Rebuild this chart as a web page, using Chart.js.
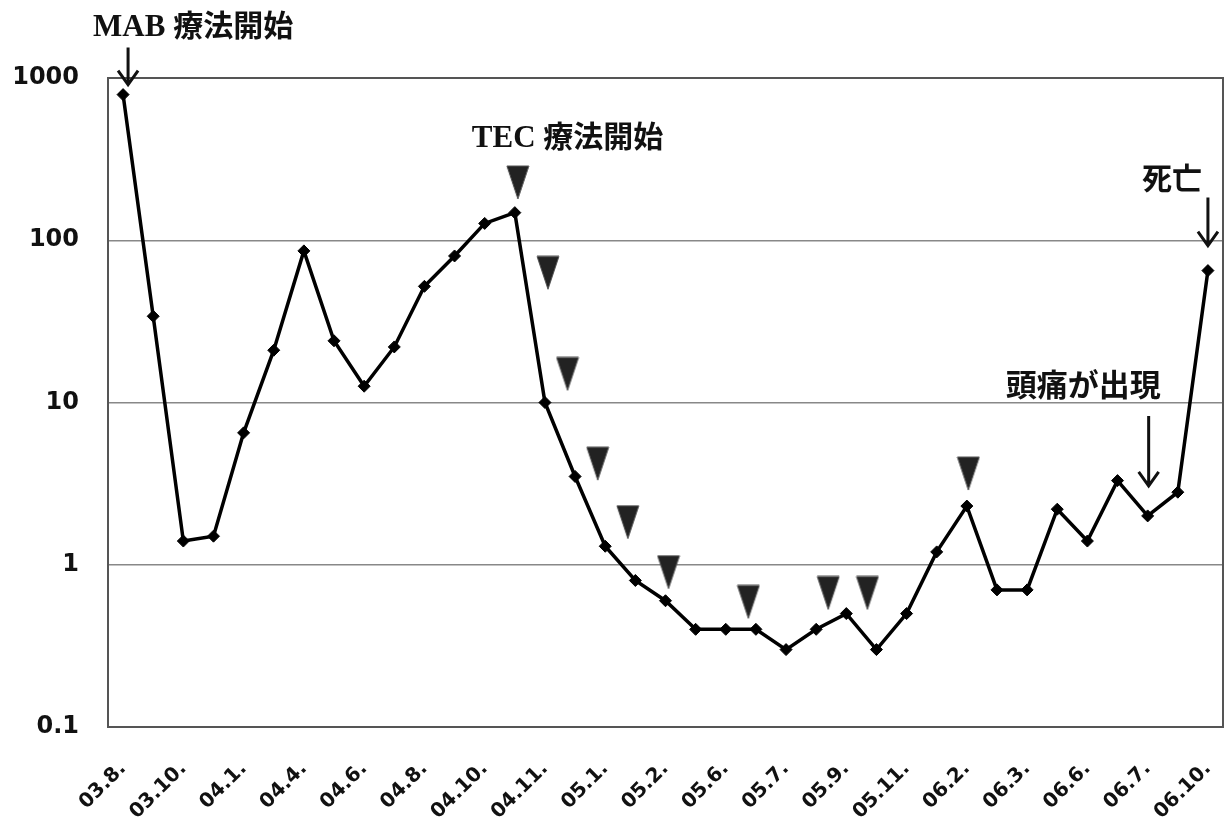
<!DOCTYPE html>
<html>
<head>
<meta charset="utf-8">
<script src="https://cdn.jsdelivr.net/npm/chart.js@4"></script>
<style>
  html, body { margin: 0; padding: 0; background: #fff; }
  #wrap { width: 1224px; height: 819px; }
</style>
</head>
<body>
<div id="wrap"><canvas id="markerChart" width="1224" height="819"></canvas></div>
<script>
// month labels, one every second measurement
const monthLabels = ["03.8.", "03.10.", "04.1.", "04.4.", "04.6.", "04.8.", "04.10.", "04.11.", "05.1.", "05.2.",
    "05.6.", "05.7.", "05.9.", "05.11.", "06.2.", "06.3.", "06.6.", "06.7.", "06.10."];

// marker values (log scale)
const markerValues = [790, 34, 1.4, 1.5, 6.5, 21, 86, 24, 12.6, 22, 52, 80, 127, 148, 10, 3.5, 1.3, 0.8, 0.6,
    0.4, 0.4, 0.4, 0.3, 0.4, 0.5, 0.3, 0.5, 1.2, 2.3, 0.7, 0.7, 2.2, 1.4, 3.3, 2.0, 2.8, 65];

// TEC courses (triangles)
const tecIndex = [13.1, 14.1, 14.75, 15.75, 16.75, 18.1, 20.75, 23.4, 24.7, 28.05];
const tecLevel = [227, 63, 15, 4.2, 1.83, 0.9, 0.59, 0.67, 0.67, 3.65];

const yTicks = [0.1, 1, 10, 100, 1000];

const serif = '"Liberation Serif", serif';
const gothic = '"Noto Sans CJK JP", sans-serif';

document.addEventListener("DOMContentLoaded", () => {
    const chartElement = document.getElementById("markerChart");

    // tall down-pointing triangle used as point style
    const tri = document.createElement("canvas");
    tri.width = 24;
    tri.height = 35;
    const tctx = tri.getContext("2d");
    tctx.beginPath();
    tctx.moveTo(1, 1);
    tctx.lineTo(23, 1);
    tctx.lineTo(12, 34);
    tctx.closePath();
    tctx.fillStyle = "#222";
    tctx.fill();
    tctx.strokeStyle = "#555";
    tctx.lineWidth = 1;
    tctx.stroke();

    const linePoints = markerValues.map((v, i) => ({ x: i, y: v }));
    const tecPoints = tecIndex.map((v, i) => ({ x: v, y: tecLevel[i] }));

    function drawMixed(ctx, parts, x, y, align) {
        let total = 0;
        parts.forEach(p => { ctx.font = p.font; total += ctx.measureText(p.text).width; });
        let cx = align === "right" ? x - total : x;
        ctx.textAlign = "left";
        ctx.textBaseline = "alphabetic";
        parts.forEach(p => {
            ctx.font = p.font;
            ctx.fillText(p.text, cx, y);
            cx += ctx.measureText(p.text).width;
        });
    }

    function drawArrow(ctx, x, yTail, yTip) {
        ctx.beginPath();
        ctx.moveTo(x, yTail);
        ctx.lineTo(x, yTip);
        ctx.moveTo(x - 10, yTip - 14);
        ctx.lineTo(x, yTip);
        ctx.lineTo(x + 10, yTip - 14);
        ctx.stroke();
    }

    const zeroPad = axis => {
        axis.paddingLeft = 0;
        axis.paddingRight = 0;
        axis.paddingTop = 0;
        axis.paddingBottom = 0;
    };

    const notesPlugin = {
        id: "notes",
        beforeDatasetsDraw(chart) {
            const { ctx, chartArea: a } = chart;
            ctx.save();
            ctx.strokeStyle = "#555";
            ctx.lineWidth = 2;
            ctx.strokeRect(a.left, a.top, a.right - a.left, a.bottom - a.top);
            ctx.restore();
        },
        afterDatasetsDraw(chart) {
            const { ctx, scales: { x, y } } = chart;
            const px = i => x.getPixelForValue(i);
            const py = i => y.getPixelForValue(markerValues[i]);
            ctx.save();
            ctx.fillStyle = "#111";
            ctx.strokeStyle = "#111";
            ctx.lineWidth = 3;
            ctx.lineCap = "butt";

            // MAB start
            const ax = px(0) + 5, aTip = py(0) - 10;
            drawArrow(ctx, ax, aTip - 37, aTip);
            drawMixed(ctx, [
                { text: "MAB ", font: "bold 31px " + serif },
                { text: "療法開始", font: "bold 30px " + gothic }
            ], px(0) - 30, aTip - 49);

            // TEC start
            drawMixed(ctx, [
                { text: "TEC ", font: "bold 31px " + serif },
                { text: "療法開始", font: "bold 30px " + gothic }
            ], px(13) - 43, py(13) - 66);

            // death
            const dx = px(36), dTip = py(36) - 25;
            drawArrow(ctx, dx, dTip - 48, dTip);
            drawMixed(ctx, [{ text: "死亡", font: "bold 30px " + gothic }], dx - 6, dTip - 57, "right");

            // headache
            const hx = px(34) + 1, hTip = py(34) - 30;
            drawArrow(ctx, hx, hTip - 70, hTip);
            drawMixed(ctx, [{ text: "頭痛が出現", font: "bold 31px " + gothic }], hx + 12, hTip - 90, "right");
            ctx.restore();
        }
    };

    new Chart(chartElement, {
        type: "line",
        data: {
            datasets: [
                {
                    data: linePoints,
                    borderColor: "#000",
                    borderWidth: 3.5,
                    pointStyle: "rectRot",
                    pointRadius: 6,
                    pointBackgroundColor: "#000",
                    pointBorderColor: "#000",
                    pointBorderWidth: 1,
                    tension: 0,
                    order: 2
                },
                {
                    data: tecPoints,
                    showLine: false,
                    pointStyle: tri,
                    pointRadius: 12,
                    order: 1
                }
            ]
        },
        plugins: [notesPlugin],
        options: {
            responsive: false,
            maintainAspectRatio: false,
            animation: false,
            layout: { autoPadding: false, padding: { left: 0, top: 78, right: 1, bottom: 0 } },
            plugins: {
                legend: { display: false },
                tooltip: { enabled: false }
            },
            scales: {
                x: {
                    type: "linear",
                    min: -0.5,
                    max: 36.5,
                    afterBuildTicks: axis => {
                        axis.ticks = monthLabels.map((_, i) => ({ value: i * 2 }));
                    },
                    afterFit: axis => {
                        axis.height = 92;
                        zeroPad(axis);
                    },
                    grid: { display: false, drawTicks: false },
                    border: { display: false },
                    ticks: {
                        autoSkip: false,
                        minRotation: 45,
                        maxRotation: 45,
                        padding: 30,
                        color: "#111",
                        font: { family: '"DejaVu Sans", sans-serif', weight: "bold", size: 20 },
                        callback: v => monthLabels[v / 2]
                    }
                },
                y: {
                    type: "logarithmic",
                    min: 0.1,
                    max: 1000,
                    afterBuildTicks: axis => {
                        axis.ticks = yTicks.map(v => ({ value: v }));
                    },
                    afterFit: axis => {
                        axis.width = 108;
                        zeroPad(axis);
                    },
                    grid: { color: "#888", lineWidth: 1.5, drawTicks: false },
                    border: { display: false },
                    ticks: {
                        padding: 29,
                        color: "#111",
                        font: { family: '"DejaVu Sans", sans-serif', weight: "bold", size: 24 },
                        callback: v => String(v)
                    }
                }
            }
        }
    });
});
</script>
</body>
</html>
